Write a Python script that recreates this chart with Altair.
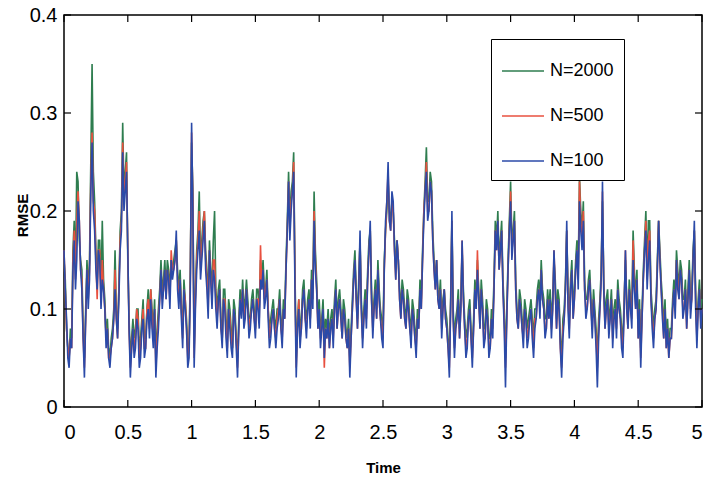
import altair as alt
import pandas as pd

FONT = "Liberation Sans"
series_names = ["N=2000", "N=500", "N=100"]
colors = ["#2e7d4f", "#e8503f", "#2b4aa8"]
x_ticks = [0, 0.5, 1, 1.5, 2, 2.5, 3, 3.5, 4, 4.5, 5]
y_ticks = [0, 0.1, 0.2, 0.3, 0.4]
dt = 0.02

# values at t = 0, 0.02, 0.04, ...
rmse_n100 = (
    [0.16, 0.09, 0.04, 0.06, 0.17, 0.15, 0.19, 0.12, 0.03, 0.14]
    + [0.13, 0.27, 0.18, 0.12, 0.15, 0.13, 0.10, 0.08, 0.04, 0.07]
    + [0.12, 0.07, 0.16, 0.26, 0.22, 0.16, 0.03, 0.08, 0.06, 0.08]
    + [0.05, 0.09, 0.06, 0.10, 0.11, 0.06, 0.03, 0.08, 0.14, 0.12]
    + [0.11, 0.13, 0.15, 0.14, 0.18, 0.10, 0.09, 0.12, 0.08, 0.05]
    + [0.29, 0.04, 0.14, 0.18, 0.15, 0.19, 0.12, 0.16, 0.10, 0.13]
    + [0.08, 0.12, 0.06, 0.10, 0.05, 0.08, 0.05, 0.09, 0.03, 0.11]
    + [0.12, 0.09, 0.10, 0.08, 0.11, 0.07, 0.10, 0.13, 0.14, 0.11]
    + [0.09, 0.07, 0.10, 0.06, 0.09, 0.08, 0.10, 0.14, 0.23, 0.20]
    + [0.24, 0.03, 0.10, 0.08, 0.12, 0.07, 0.11, 0.13, 0.19, 0.12]
    + [0.10, 0.08, 0.05, 0.07, 0.06, 0.09, 0.10, 0.08, 0.11, 0.07]
    + [0.09, 0.06, 0.03, 0.10, 0.15, 0.08, 0.18, 0.06, 0.11, 0.13]
    + [0.19, 0.07, 0.12, 0.14, 0.09, 0.06, 0.19, 0.25, 0.18, 0.21]
    + [0.13, 0.15, 0.09, 0.11, 0.08, 0.10, 0.06, 0.09, 0.05, 0.08]
    + [0.10, 0.19, 0.24, 0.20, 0.22, 0.14, 0.15, 0.10, 0.07, 0.12]
    + [0.08, 0.03, 0.20, 0.05, 0.09, 0.07, 0.17, 0.08, 0.06, 0.10]
    + [0.04, 0.12, 0.14, 0.08, 0.10, 0.07, 0.09, 0.06, 0.07, 0.18]
    + [0.19, 0.16, 0.12, 0.02, 0.14, 0.21, 0.17, 0.12, 0.08, 0.10]
    + [0.06, 0.09, 0.07, 0.10, 0.05, 0.09, 0.12, 0.14, 0.10, 0.08]
    + [0.09, 0.07, 0.16, 0.08, 0.10, 0.03, 0.09, 0.19, 0.07, 0.14]
    + [0.11, 0.16, 0.21, 0.16, 0.12, 0.10, 0.13, 0.07, 0.09, 0.02]
    + [0.10, 0.23, 0.08, 0.11, 0.09, 0.06, 0.10, 0.12, 0.09, 0.05]
    + [0.16, 0.08, 0.10, 0.15, 0.10, 0.07, 0.04, 0.13, 0.18, 0.15]
    + [0.11, 0.06, 0.10, 0.19, 0.12, 0.07, 0.06, 0.05, 0.07, 0.12]
    + [0.15, 0.11, 0.13, 0.10, 0.08, 0.14, 0.11, 0.19, 0.06, 0.12]
    + [0.10]
)
# values at t = 0.01, 0.03, 0.05, ...
rmse_n100_mid = (
    [0.12, 0.05, 0.07, 0.14, 0.12, 0.21, 0.14, 0.07, 0.09, 0.10]
    + [0.22, 0.20, 0.14, 0.16, 0.10, 0.12, 0.06, 0.05, 0.06, 0.09]
    + [0.09, 0.11, 0.18, 0.20, 0.24, 0.08, 0.06, 0.05, 0.09, 0.04]
    + [0.08, 0.05, 0.09, 0.07, 0.08, 0.10, 0.06, 0.11, 0.10, 0.14]
    + [0.14, 0.10, 0.13, 0.15, 0.12, 0.13, 0.06, 0.10, 0.04, 0.12]
    + [0.20, 0.10, 0.16, 0.13, 0.17, 0.14, 0.09, 0.13, 0.14, 0.10]
    + [0.11, 0.08, 0.11, 0.07, 0.10, 0.06, 0.10, 0.06, 0.08, 0.09]
    + [0.08, 0.12, 0.07, 0.10, 0.09, 0.11, 0.08, 0.12, 0.10, 0.13]
    + [0.06, 0.09, 0.08, 0.08, 0.11, 0.06, 0.09, 0.18, 0.17, 0.22]
    + [0.12, 0.08, 0.06, 0.11, 0.09, 0.10, 0.08, 0.10, 0.14, 0.08]
    + [0.06, 0.10, 0.08, 0.09, 0.08, 0.06, 0.12, 0.10, 0.09, 0.10]
    + [0.07, 0.08, 0.07, 0.13, 0.11, 0.12, 0.10, 0.09, 0.08, 0.16]
    + [0.11, 0.10, 0.09, 0.11, 0.07, 0.14, 0.21, 0.19, 0.22, 0.16]
    + [0.17, 0.11, 0.12, 0.09, 0.11, 0.08, 0.10, 0.07, 0.09, 0.12]
    + [0.15, 0.22, 0.19, 0.23, 0.17, 0.12, 0.11, 0.12, 0.10, 0.09]
    + [0.06, 0.10, 0.09, 0.08, 0.11, 0.10, 0.11, 0.05, 0.09, 0.07]
    + [0.08, 0.10, 0.11, 0.12, 0.06, 0.10, 0.05, 0.09, 0.12, 0.16]
    + [0.14, 0.18, 0.08, 0.09, 0.18, 0.15, 0.19, 0.09, 0.11, 0.08]
    + [0.10, 0.06, 0.09, 0.07, 0.08, 0.11, 0.09, 0.11, 0.07, 0.11]
    + [0.11, 0.10, 0.12, 0.11, 0.06, 0.07, 0.12, 0.10, 0.12, 0.09]
    + [0.14, 0.12, 0.18, 0.19, 0.09, 0.12, 0.10, 0.11, 0.06, 0.07]
    + [0.13, 0.12, 0.10, 0.07, 0.11, 0.09, 0.07, 0.10, 0.06, 0.10]
    + [0.10, 0.12, 0.08, 0.12, 0.13, 0.10, 0.09, 0.16, 0.12, 0.17]
    + [0.08, 0.09, 0.14, 0.15, 0.09, 0.10, 0.08, 0.07, 0.10, 0.09]
    + [0.12, 0.14, 0.09, 0.12, 0.11, 0.09, 0.15, 0.10, 0.10, 0.08]
)

rmse_n2000 = (
    [0.15, 0.08, 0.05, 0.07, 0.19, 0.24, 0.17, 0.14, 0.05, 0.15]
    + [0.15, 0.35, 0.21, 0.13, 0.17, 0.19, 0.11, 0.09, 0.05, 0.08]
    + [0.16, 0.08, 0.18, 0.29, 0.24, 0.15, 0.05, 0.09, 0.08, 0.10]
    + [0.07, 0.11, 0.07, 0.12, 0.12, 0.08, 0.05, 0.10, 0.15, 0.13]
    + [0.12, 0.14, 0.15, 0.15, 0.17, 0.12, 0.10, 0.13, 0.09, 0.06]
    + [0.27, 0.06, 0.16, 0.22, 0.17, 0.20, 0.14, 0.17, 0.12, 0.20]
    + [0.10, 0.13, 0.07, 0.12, 0.07, 0.10, 0.06, 0.10, 0.05, 0.12]
    + [0.13, 0.11, 0.11, 0.09, 0.12, 0.08, 0.12, 0.15, 0.15, 0.12]
    + [0.10, 0.09, 0.11, 0.08, 0.10, 0.09, 0.11, 0.15, 0.24, 0.22]
    + [0.26, 0.05, 0.11, 0.09, 0.13, 0.09, 0.12, 0.14, 0.22, 0.13]
    + [0.11, 0.09, 0.07, 0.08, 0.07, 0.10, 0.11, 0.09, 0.12, 0.08]
    + [0.10, 0.07, 0.05, 0.11, 0.16, 0.09, 0.17, 0.08, 0.12, 0.14]
    + [0.18, 0.09, 0.13, 0.15, 0.10, 0.08, 0.18, 0.23, 0.19, 0.20]
    + [0.14, 0.15, 0.10, 0.12, 0.09, 0.11, 0.08, 0.10, 0.07, 0.09]
    + [0.11, 0.20, 0.265, 0.21, 0.23, 0.15, 0.15, 0.11, 0.09, 0.12]
    + [0.09, 0.05, 0.19, 0.07, 0.10, 0.08, 0.16, 0.09, 0.08, 0.11]
    + [0.06, 0.13, 0.15, 0.09, 0.11, 0.08, 0.10, 0.07, 0.09, 0.19]
    + [0.20, 0.17, 0.13, 0.05, 0.15, 0.23, 0.18, 0.13, 0.09, 0.11]
    + [0.08, 0.10, 0.09, 0.11, 0.07, 0.10, 0.13, 0.15, 0.11, 0.09]
    + [0.10, 0.09, 0.15, 0.09, 0.11, 0.05, 0.10, 0.18, 0.09, 0.15]
    + [0.12, 0.17, 0.235, 0.18, 0.13, 0.11, 0.14, 0.09, 0.10, 0.05]
    + [0.11, 0.21, 0.09, 0.12, 0.10, 0.08, 0.11, 0.13, 0.10, 0.07]
    + [0.15, 0.09, 0.11, 0.18, 0.11, 0.08, 0.06, 0.14, 0.20, 0.19]
    + [0.12, 0.08, 0.11, 0.19, 0.13, 0.08, 0.07, 0.06, 0.08, 0.13]
    + [0.16, 0.12, 0.14, 0.11, 0.09, 0.15, 0.12, 0.18, 0.08, 0.13]
    + [0.11]
)
rmse_n2000_mid = (
    [0.13, 0.06, 0.08, 0.16, 0.14, 0.23, 0.15, 0.08, 0.10, 0.12]
    + [0.25, 0.24, 0.16, 0.17, 0.12, 0.13, 0.07, 0.06, 0.07, 0.10]
    + [0.10, 0.12, 0.20, 0.22, 0.26, 0.09, 0.07, 0.07, 0.10, 0.06]
    + [0.09, 0.07, 0.10, 0.09, 0.10, 0.11, 0.08, 0.12, 0.12, 0.15]
    + [0.15, 0.12, 0.14, 0.16, 0.14, 0.14, 0.08, 0.11, 0.06, 0.14]
    + [0.22, 0.12, 0.18, 0.15, 0.19, 0.16, 0.11, 0.14, 0.17, 0.12]
    + [0.12, 0.09, 0.12, 0.09, 0.11, 0.08, 0.11, 0.07, 0.09, 0.10]
    + [0.10, 0.13, 0.09, 0.11, 0.10, 0.12, 0.10, 0.13, 0.12, 0.14]
    + [0.08, 0.10, 0.09, 0.10, 0.12, 0.08, 0.10, 0.19, 0.19, 0.23]
    + [0.14, 0.09, 0.08, 0.12, 0.10, 0.11, 0.09, 0.12, 0.16, 0.09]
    + [0.08, 0.11, 0.09, 0.10, 0.09, 0.08, 0.13, 0.11, 0.10, 0.11]
    + [0.08, 0.09, 0.08, 0.14, 0.12, 0.13, 0.11, 0.10, 0.10, 0.17]
    + [0.12, 0.11, 0.10, 0.12, 0.09, 0.15, 0.20, 0.20, 0.21, 0.17]
    + [0.17, 0.12, 0.13, 0.10, 0.12, 0.09, 0.11, 0.08, 0.10, 0.13]
    + [0.16, 0.23, 0.21, 0.24, 0.18, 0.13, 0.12, 0.13, 0.11, 0.10]
    + [0.07, 0.11, 0.10, 0.09, 0.12, 0.11, 0.12, 0.07, 0.10, 0.08]
    + [0.09, 0.11, 0.12, 0.13, 0.08, 0.11, 0.07, 0.10, 0.13, 0.17]
    + [0.15, 0.19, 0.10, 0.10, 0.19, 0.17, 0.20, 0.10, 0.12, 0.09]
    + [0.11, 0.08, 0.10, 0.09, 0.10, 0.12, 0.11, 0.12, 0.09, 0.12]
    + [0.12, 0.11, 0.13, 0.12, 0.07, 0.09, 0.13, 0.12, 0.13, 0.10]
    + [0.15, 0.14, 0.20, 0.21, 0.11, 0.13, 0.11, 0.12, 0.08, 0.09]
    + [0.14, 0.13, 0.11, 0.09, 0.12, 0.10, 0.09, 0.11, 0.08, 0.11]
    + [0.11, 0.13, 0.10, 0.14, 0.14, 0.11, 0.10, 0.17, 0.14, 0.19]
    + [0.10, 0.10, 0.15, 0.16, 0.11, 0.11, 0.09, 0.08, 0.11, 0.11]
    + [0.14, 0.15, 0.11, 0.13, 0.12, 0.11, 0.16, 0.12, 0.11, 0.10]
)

rmse_n500 = (
    [0.16, 0.08, 0.05, 0.06, 0.18, 0.19, 0.19, 0.13, 0.04, 0.14]
    + [0.14, 0.28, 0.20, 0.11, 0.16, 0.15, 0.10, 0.08, 0.05, 0.07]
    + [0.14, 0.07, 0.17, 0.27, 0.23, 0.16, 0.04, 0.08, 0.07, 0.09]
    + [0.06, 0.10, 0.06, 0.11, 0.12, 0.07, 0.04, 0.09, 0.14, 0.12]
    + [0.11, 0.13, 0.16, 0.14, 0.17, 0.11, 0.10, 0.12, 0.08, 0.06]
    + [0.28, 0.05, 0.15, 0.20, 0.16, 0.20, 0.13, 0.16, 0.11, 0.15]
    + [0.09, 0.12, 0.07, 0.11, 0.06, 0.09, 0.06, 0.09, 0.04, 0.11]
    + [0.12, 0.10, 0.10, 0.09, 0.11, 0.08, 0.11, 0.165, 0.14, 0.12]
    + [0.10, 0.08, 0.10, 0.07, 0.10, 0.08, 0.10, 0.14, 0.23, 0.21]
    + [0.25, 0.04, 0.11, 0.08, 0.12, 0.08, 0.11, 0.13, 0.20, 0.12]
    + [0.10, 0.08, 0.04, 0.07, 0.06, 0.09, 0.10, 0.08, 0.11, 0.07]
    + [0.09, 0.06, 0.04, 0.10, 0.15, 0.08, 0.17, 0.07, 0.11, 0.13]
    + [0.18, 0.08, 0.12, 0.14, 0.09, 0.07, 0.18, 0.24, 0.18, 0.20]
    + [0.13, 0.15, 0.09, 0.11, 0.08, 0.10, 0.07, 0.09, 0.06, 0.08]
    + [0.10, 0.20, 0.25, 0.20, 0.22, 0.14, 0.15, 0.10, 0.08, 0.12]
    + [0.08, 0.04, 0.19, 0.06, 0.09, 0.07, 0.17, 0.08, 0.07, 0.10]
    + [0.05, 0.12, 0.16, 0.08, 0.10, 0.07, 0.09, 0.06, 0.08, 0.18]
    + [0.19, 0.16, 0.12, 0.04, 0.14, 0.22, 0.17, 0.12, 0.08, 0.10]
    + [0.07, 0.09, 0.08, 0.10, 0.06, 0.09, 0.12, 0.14, 0.10, 0.08]
    + [0.09, 0.08, 0.16, 0.08, 0.10, 0.04, 0.09, 0.18, 0.08, 0.14]
    + [0.11, 0.16, 0.23, 0.17, 0.12, 0.10, 0.13, 0.08, 0.09, 0.04]
    + [0.10, 0.22, 0.08, 0.11, 0.09, 0.07, 0.10, 0.12, 0.09, 0.06]
    + [0.16, 0.08, 0.10, 0.17, 0.10, 0.07, 0.05, 0.13, 0.19, 0.17]
    + [0.11, 0.07, 0.10, 0.19, 0.12, 0.07, 0.06, 0.05, 0.07, 0.12]
    + [0.15, 0.11, 0.13, 0.10, 0.08, 0.14, 0.11, 0.18, 0.07, 0.12]
    + [0.10]
)
rmse_n500_mid = (
    [0.12, 0.06, 0.07, 0.15, 0.13, 0.22, 0.14, 0.07, 0.09, 0.11]
    + [0.23, 0.21, 0.15, 0.16, 0.11, 0.12, 0.07, 0.05, 0.06, 0.09]
    + [0.09, 0.12, 0.19, 0.21, 0.25, 0.08, 0.06, 0.06, 0.10, 0.05]
    + [0.08, 0.06, 0.10, 0.08, 0.09, 0.10, 0.07, 0.11, 0.11, 0.14]
    + [0.14, 0.11, 0.14, 0.15, 0.13, 0.13, 0.07, 0.11, 0.05, 0.13]
    + [0.21, 0.11, 0.17, 0.14, 0.18, 0.15, 0.10, 0.13, 0.15, 0.11]
    + [0.11, 0.08, 0.11, 0.08, 0.10, 0.07, 0.10, 0.07, 0.08, 0.10]
    + [0.09, 0.12, 0.08, 0.10, 0.09, 0.11, 0.09, 0.12, 0.11, 0.13]
    + [0.07, 0.09, 0.08, 0.09, 0.11, 0.07, 0.09, 0.18, 0.18, 0.22]
    + [0.13, 0.08, 0.07, 0.11, 0.09, 0.10, 0.09, 0.11, 0.15, 0.08]
    + [0.07, 0.10, 0.08, 0.09, 0.08, 0.07, 0.12, 0.10, 0.09, 0.10]
    + [0.07, 0.08, 0.07, 0.13, 0.11, 0.12, 0.10, 0.09, 0.09, 0.16]
    + [0.11, 0.10, 0.09, 0.11, 0.08, 0.14, 0.21, 0.19, 0.21, 0.16]
    + [0.17, 0.11, 0.12, 0.09, 0.11, 0.08, 0.10, 0.07, 0.09, 0.12]
    + [0.15, 0.22, 0.20, 0.23, 0.17, 0.12, 0.11, 0.12, 0.10, 0.09]
    + [0.06, 0.10, 0.09, 0.08, 0.11, 0.10, 0.11, 0.06, 0.09, 0.07]
    + [0.08, 0.10, 0.11, 0.12, 0.07, 0.10, 0.06, 0.09, 0.12, 0.16]
    + [0.14, 0.18, 0.09, 0.09, 0.18, 0.16, 0.19, 0.09, 0.11, 0.08]
    + [0.10, 0.07, 0.09, 0.08, 0.09, 0.11, 0.10, 0.11, 0.08, 0.11]
    + [0.11, 0.10, 0.12, 0.11, 0.06, 0.08, 0.12, 0.11, 0.12, 0.09]
    + [0.14, 0.13, 0.19, 0.20, 0.10, 0.12, 0.10, 0.11, 0.07, 0.08]
    + [0.13, 0.12, 0.10, 0.08, 0.11, 0.09, 0.08, 0.10, 0.07, 0.10]
    + [0.10, 0.12, 0.09, 0.13, 0.13, 0.10, 0.09, 0.16, 0.13, 0.18]
    + [0.09, 0.09, 0.14, 0.15, 0.10, 0.10, 0.08, 0.07, 0.10, 0.10]
    + [0.13, 0.14, 0.10, 0.12, 0.11, 0.10, 0.15, 0.11, 0.10, 0.09]
)

series_values = {
    "N=2000": (rmse_n2000, rmse_n2000_mid),
    "N=500": (rmse_n500, rmse_n500_mid),
    "N=100": (rmse_n100, rmse_n100_mid),
}


def series_df(name):
    main, mid = series_values[name]
    ts, vs = [], []
    for k, v in enumerate(main):
        ts.append(round(k * dt, 3))
        vs.append(v)
        if k < len(mid):
            ts.append(round(k * dt + dt / 2, 3))
            vs.append(mid[k])
    return pd.DataFrame({"t": ts, "rmse": vs, "series": name})


xscale = alt.Scale(domain=[0, 5], nice=False, zero=False)
yscale = alt.Scale(domain=[0, 0.4], nice=False)
cscale = alt.Scale(domain=series_names, range=colors)

xaxis = alt.Axis(values=x_ticks, format="~g", ticks=False, domain=False, grid=False,
                 labelFontSize=20, labelFont=FONT, labelColor="black", labelPadding=15,
                 title="Time", titleFont=FONT, titleFontSize=15,
                 titleFontWeight="bold", titleColor="black", titleY=60, titleBaseline="middle")
yaxis = alt.Axis(values=y_ticks, format="~g", ticks=False, domain=False, grid=False,
                 labelFontSize=20, labelFont=FONT, labelColor="black", labelPadding=7,
                 title="RMSE", titleFont=FONT, titleFontSize=15,
                 titleFontWeight="bold", titleColor="black", titleX=-42, titleY=200,
                 titleBaseline="middle")

legend = alt.Legend(orient="none", legendX=427, legendY=24, title=None,
                    symbolType="stroke", symbolSize=1764, symbolStrokeWidth=1.5,
                    labelFontSize=18, labelFont=FONT, labelColor="black", labelOffset=5,
                    strokeColor="black", fillColor="white", padding=10, rowPadding=14)

X = alt.X("t:Q", scale=xscale, axis=xaxis, title="Time")
Y = alt.Y("rmse:Q", scale=yscale, axis=yaxis, title="RMSE")

line_layers = []
for name in series_names:
    line_layers.append(
        alt.Chart(series_df(name)).mark_line(strokeWidth=1.6).encode(
            x=X, y=Y,
            color=alt.Color("series:N", scale=cscale, legend=legend, title=None),
        )
    )

xt = pd.DataFrame({"t": x_ticks})
yt = pd.DataFrame({"rmse": y_ticks})
tick_style = dict(color="black", strokeWidth=1.2)
bottom_ticks = alt.Chart(xt).mark_rule(**tick_style).encode(x=X, y=alt.value(392), y2=alt.value(385))
top_ticks = alt.Chart(xt).mark_rule(**tick_style).encode(x=X, y=alt.value(0), y2=alt.value(7))
left_ticks = alt.Chart(yt).mark_rule(**tick_style).encode(y=Y, x=alt.value(0), x2=alt.value(7))
right_ticks = alt.Chart(yt).mark_rule(**tick_style).encode(y=Y, x=alt.value(638), x2=alt.value(631))

chart = alt.layer(*line_layers, bottom_ticks, top_ticks, left_ticks, right_ticks).properties(
    width=638, height=392,
    autosize=alt.AutoSizeParams(type="none"),
    padding={"left": 64, "top": 15, "right": 5, "bottom": 73},
    background="white",
).configure_view(stroke="black", strokeWidth=1.5)

chart.save("out.html", embed_options={"renderer": "svg", "actions": False})
